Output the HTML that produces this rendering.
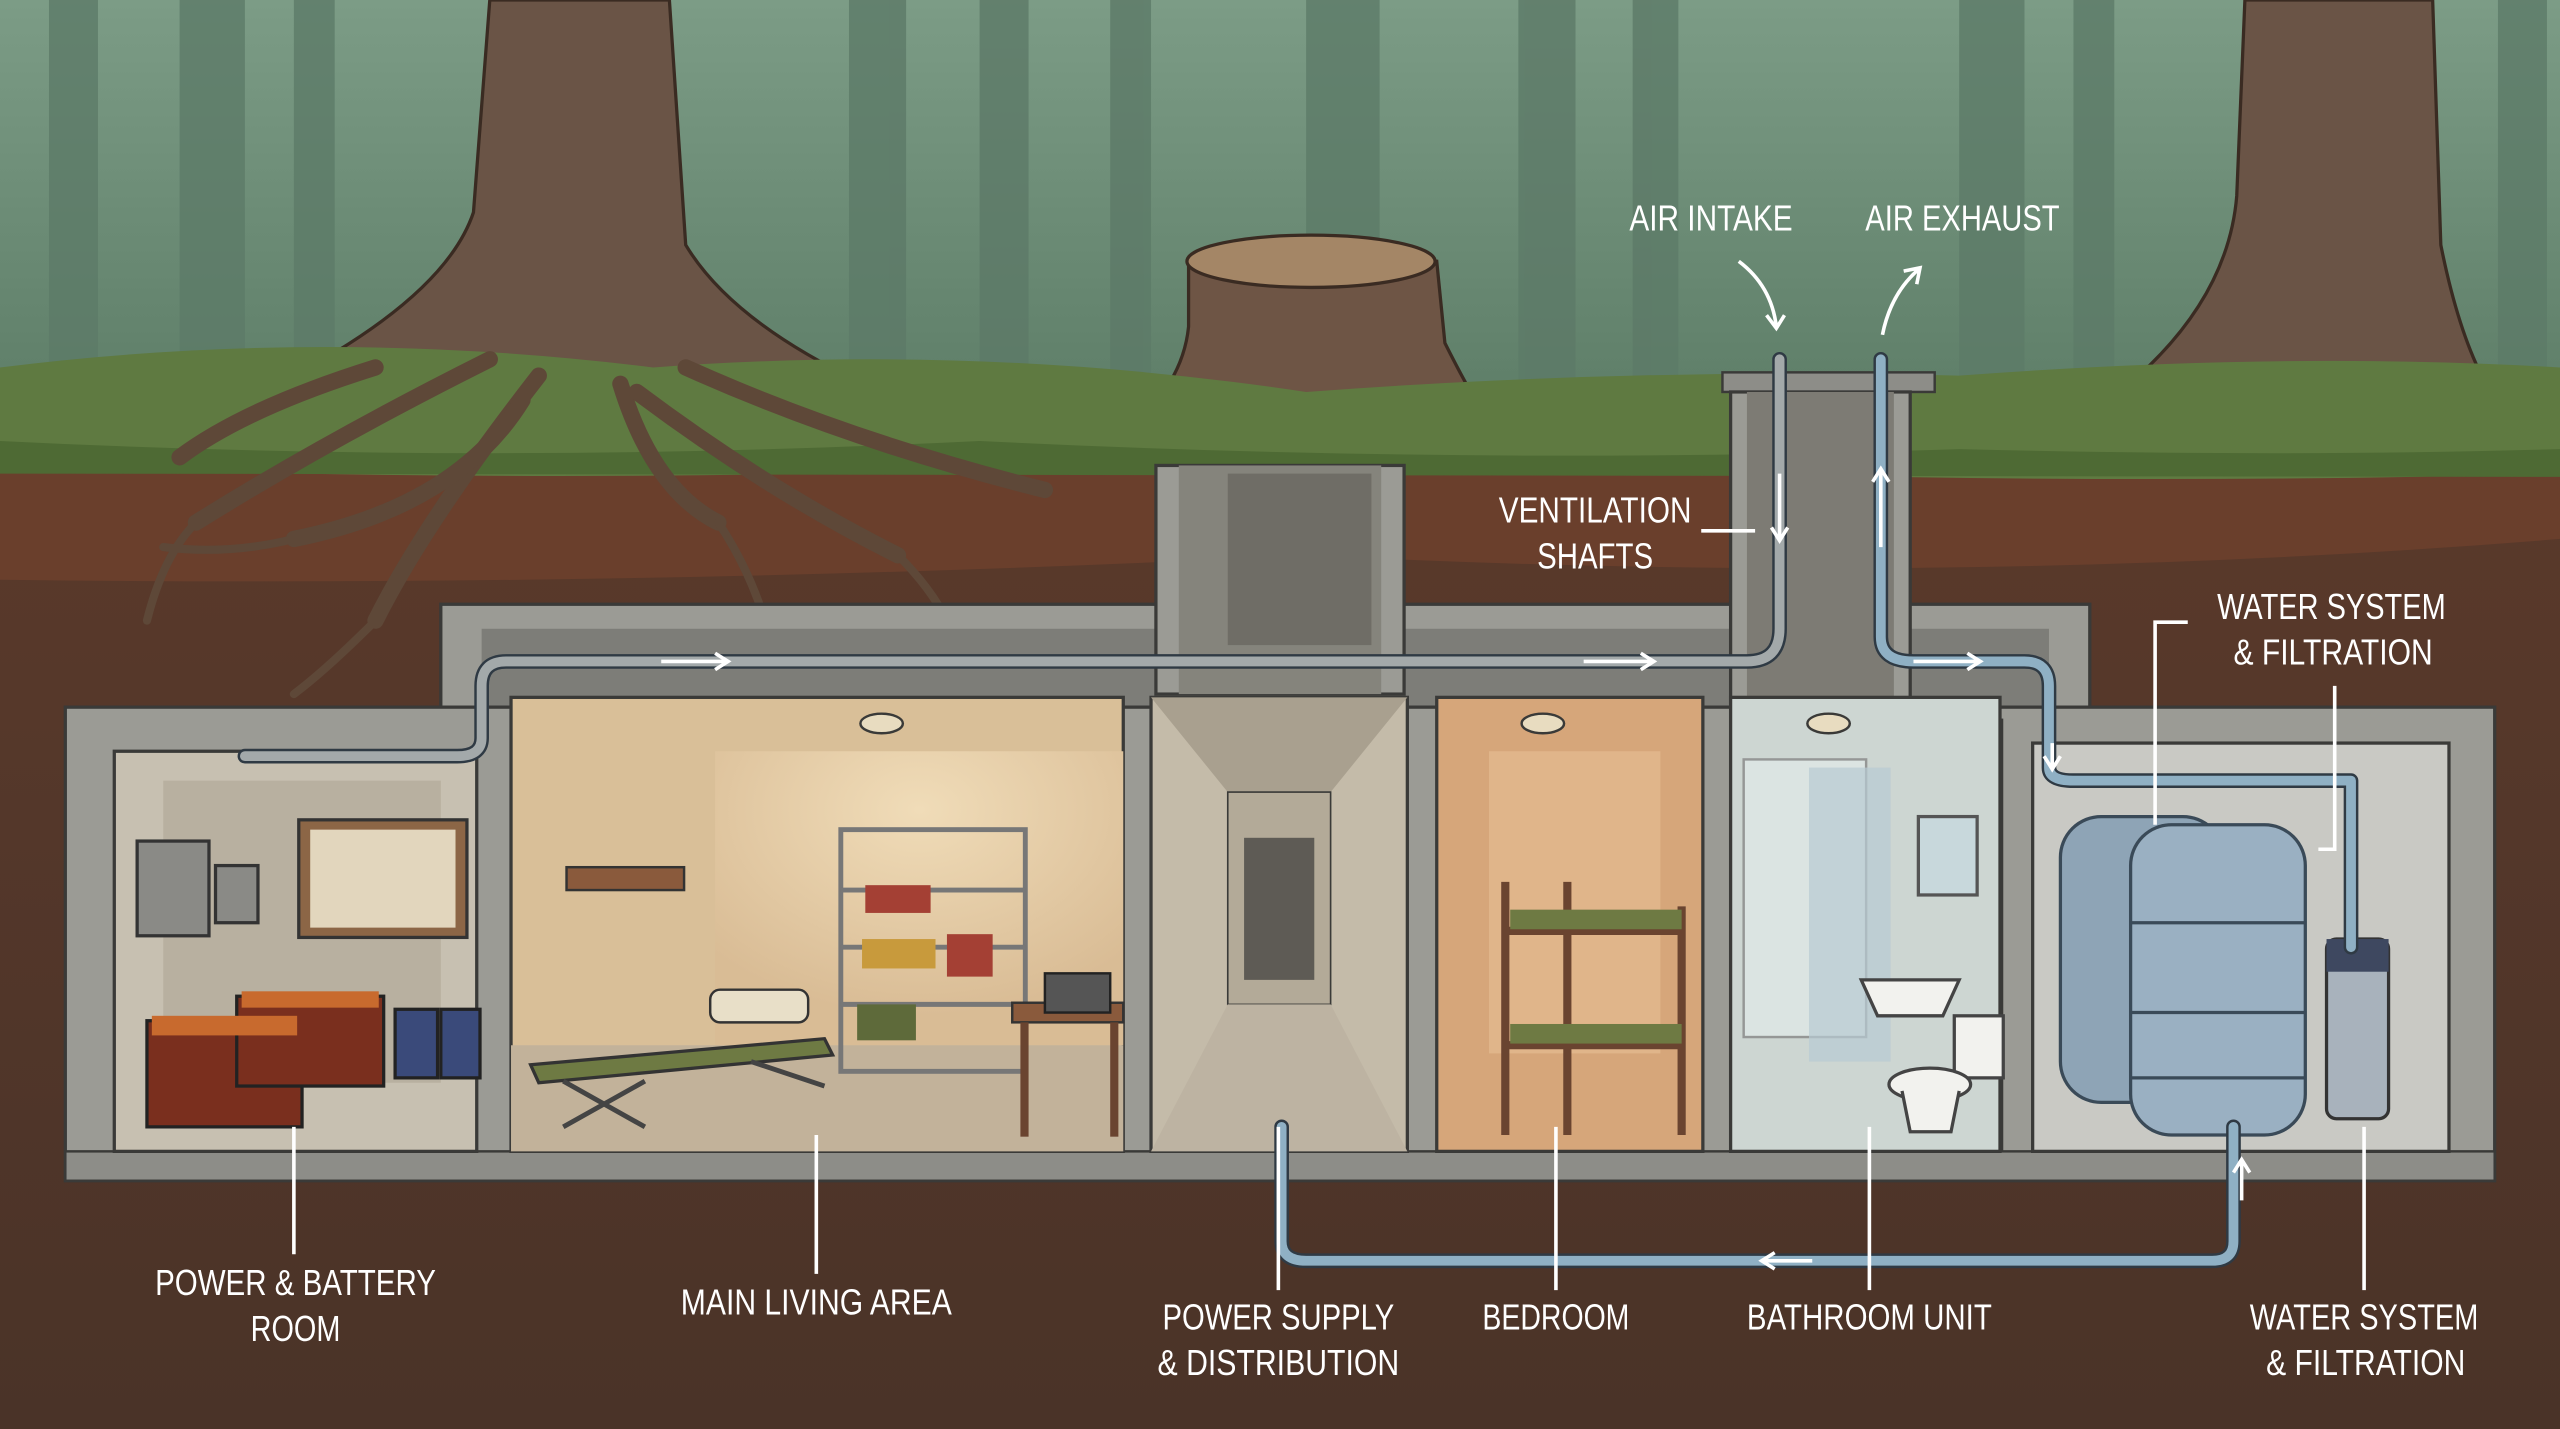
<!DOCTYPE html>
<html><head><meta charset="utf-8"><style>
html,body{margin:0;padding:0;width:2560px;height:1429px;overflow:hidden;background:#4a3328}
svg{display:block}
text{font-family:"Liberation Sans",sans-serif;fill:#fff;font-size:22px;text-anchor:middle}
</style></head><body>
<svg width="2560" height="1429" viewBox="0 0 1568 875" preserveAspectRatio="none" xmlns="http://www.w3.org/2000/svg">
<defs>
<linearGradient id="sky" x1="0" y1="0" x2="0" y2="1"><stop offset="0" stop-color="#7c9c86"/><stop offset="1" stop-color="#5f7f69"/></linearGradient>
<linearGradient id="soil" x1="0" y1="0" x2="0" y2="1"><stop offset="0" stop-color="#5b3a2b"/><stop offset="1" stop-color="#4a3328"/></linearGradient>
<radialGradient id="lamp" cx="0.5" cy="0.2" r="0.7"><stop offset="0" stop-color="#f0dcb8"/><stop offset="1" stop-color="#d9bc95"/></radialGradient>
</defs>
<rect x="0" y="0" width="1568" height="240" fill="url(#sky)"/>
<g fill="#5d7a68" opacity="0.8">
<rect x="30" y="0" width="30" height="240"/><rect x="110" y="0" width="40" height="240"/><rect x="180" y="0" width="25" height="240"/>
<rect x="520" y="0" width="35" height="240"/><rect x="600" y="0" width="30" height="240"/><rect x="680" y="0" width="25" height="240"/>
<rect x="930" y="0" width="35" height="240"/><rect x="1000" y="0" width="28" height="240"/><rect x="1200" y="0" width="40" height="240"/>
<rect x="1270" y="0" width="25" height="240"/><rect x="1530" y="0" width="30" height="240"/><rect x="800" y="0" width="45" height="150"/>
</g>
<rect x="0" y="240" width="1568" height="635" fill="url(#soil)"/>
<path d="M0 280 L1568 280 L1568 330 Q1200 360 800 340 Q400 360 0 355Z" fill="#6a3f2c"/>
<!-- left tree -->
<path d="M300 0 L410 0 L420 150 Q450 200 540 240 L140 250 Q270 190 290 130Z" fill="#6a5446" stroke="#3a2b22" stroke-width="2"/>
<!-- right tree -->
<path d="M1375 0 L1490 0 L1495 150 Q1505 200 1520 230 L1310 230 Q1365 180 1370 120Z" fill="#6a5446" stroke="#3a2b22" stroke-width="2"/>
<!-- stump -->
<path d="M728 160 L880 160 L885 210 Q900 240 910 255 L700 255 Q725 230 728 200Z" fill="#6e5545" stroke="#3a2b22" stroke-width="2"/>
<ellipse cx="803" cy="160" rx="76" ry="16" fill="#a48666" stroke="#3a2b22" stroke-width="2"/>
<!-- moss -->
<path d="M0 225 Q200 200 400 225 Q600 210 800 240 Q1000 225 1200 230 Q1400 215 1568 225 L1568 290 Q1200 300 800 280 Q400 300 0 285Z" fill="#5f7a41"/>
<path d="M0 270 Q300 285 600 270 Q900 285 1200 275 Q1400 280 1568 275 L1568 292 L0 290Z" fill="#4e6a34"/>
<!-- roots -->
<g fill="none" stroke="#5e4838" stroke-width="10" stroke-linecap="round">
<path d="M300 220 Q200 270 120 320"/><path d="M330 230 Q260 320 230 380"/><path d="M380 235 Q400 300 440 320"/><path d="M420 225 Q520 270 640 300"/><path d="M390 240 Q470 300 550 340"/><path d="M320 245 Q280 310 180 330"/><path d="M230 225 Q150 250 110 280"/>
</g>
<g fill="none" stroke="#5e4838" stroke-width="5" stroke-linecap="round">
<path d="M230 380 Q200 410 180 425"/><path d="M120 320 Q100 340 90 380"/><path d="M440 320 Q460 350 470 385"/><path d="M550 340 Q570 360 580 380"/><path d="M180 330 Q140 340 100 335"/>
</g>
<rect x="1055" y="228" width="130" height="12" fill="#8d8d88" stroke="#3a3a38" stroke-width="1.5"/>
<rect x="270" y="370" width="1010" height="70" fill="#9b9b95" stroke="#3a3a38" stroke-width="2"/>
<rect x="295" y="385" width="960" height="50" fill="#7d7d78"/>
<rect x="708" y="285" width="152" height="140" fill="#9b9b95" stroke="#3a3a38" stroke-width="2"/>
<rect x="722" y="285" width="124" height="140" fill="#85847c"/>
<rect x="752" y="290" width="88" height="105" fill="#6f6d66"/>
<rect x="1060" y="240" width="110" height="190" fill="#9b9b95" stroke="#3a3a38" stroke-width="2"/>
<rect x="1070" y="240" width="90" height="190" fill="#7d7b74"/>
<rect x="40" y="433" width="1488" height="290" fill="#9b9b95" stroke="#3a3a38" stroke-width="2"/>
<rect x="40" y="705" width="1488" height="18" fill="#8d8d88" stroke="#3a3a38" stroke-width="1.5"/>
<rect x="70" y="460" width="222" height="245" fill="#c7c0b1" stroke="#3a3a38" stroke-width="2"/>
<rect x="100" y="478" width="170" height="185" fill="#b8b0a0"/>
<rect x="313" y="427" width="375" height="278" fill="#d9bf98" stroke="#3a3a38" stroke-width="2"/>
<rect x="438" y="460" width="250" height="180" fill="url(#lamp)"/>
<path d="M313 640 L688 640 L688 705 L313 705Z" fill="#c2b29a"/>
<rect x="705" y="427" width="157" height="278" fill="#c4bba9" stroke="#3a3a38" stroke-width="2"/>
<path d="M705 427 L862 427 L815 485 L752 485Z" fill="#a9a08f"/>
<rect x="752" y="485" width="63" height="130" fill="#b3aa98" stroke="#3a3a38" stroke-width="1"/>
<rect x="762" y="513" width="43" height="87" fill="#5e5b55"/>
<path d="M752 615 L815 615 L862 705 L705 705Z" fill="#bdb3a2"/>
<rect x="880" y="427" width="163" height="278" fill="#d6a67a" stroke="#3a3a38" stroke-width="2"/>
<rect x="912" y="460" width="105" height="185" fill="#e0b58a"/>
<rect x="1060" y="427" width="165" height="278" fill="#cdd6d2" stroke="#3a3a38" stroke-width="2"/>
<rect x="1225" y="440" width="2" height="265" fill="#3a3a38"/>
<rect x="1245" y="455" width="255" height="250" fill="#c9c9c4" stroke="#3a3a38" stroke-width="2"/>
<g fill="#e8dcc0" stroke="#3a3a38" stroke-width="1.5"><ellipse cx="540" cy="443" rx="13" ry="6"/><ellipse cx="945" cy="443" rx="13" ry="6"/><ellipse cx="1120" cy="443" rx="13" ry="6"/></g>
<rect x="84" y="515" width="44" height="58" fill="#8a8a86" stroke="#333" stroke-width="2"/>
<rect x="132" y="530" width="26" height="35" fill="#8a8a86" stroke="#333" stroke-width="2"/>
<rect x="183" y="502" width="103" height="72" fill="#8c6646" stroke="#333" stroke-width="2"/>
<rect x="190" y="508" width="89" height="60" fill="#e2d6bd"/>
<g fill="#7a2f1e" stroke="#222" stroke-width="2"><rect x="90" y="625" width="95" height="65"/><rect x="145" y="610" width="90" height="55"/></g>
<g fill="#c86a2e"><rect x="93" y="622" width="89" height="12"/><rect x="148" y="607" width="84" height="10"/></g>
<rect x="242" y="618" width="26" height="42" fill="#3a4a7a" stroke="#222" stroke-width="2"/><rect x="270" y="618" width="24" height="42" fill="#3a4a7a" stroke="#222" stroke-width="2"/>
<rect x="347" y="531" width="72" height="14" fill="#8a5a3c" stroke="#333" stroke-width="1.5"/>
<path d="M325 652 L505 636 L510 646 L330 663Z" fill="#6e7a43" stroke="#333" stroke-width="2"/>
<path d="M345 662 L395 690 M395 662 L345 690 M460 650 L505 665" stroke="#444" stroke-width="3"/>
<rect x="435" y="606" width="60" height="20" rx="6" fill="#e8dfc8" stroke="#333" stroke-width="1.5"/>
<g stroke="#777" stroke-width="3" fill="none"><rect x="515" y="508" width="113" height="148"/><path d="M515 545 H628 M515 580 H628 M515 615 H628"/></g>
<g fill="#a44034"><rect x="530" y="542" width="40" height="17"/><rect x="580" y="572" width="28" height="26"/></g>
<g fill="#c89a3c"><rect x="528" y="575" width="45" height="18"/></g>
<rect x="525" y="615" width="36" height="22" fill="#5e6a3a"/>
<rect x="620" y="614" width="68" height="12" fill="#8a5a3c" stroke="#333" stroke-width="1.5"/>
<rect x="625" y="626" width="5" height="70" fill="#6a4430"/><rect x="680" y="626" width="5" height="70" fill="#6a4430"/>
<rect x="640" y="596" width="40" height="24" fill="#555" stroke="#222" stroke-width="1.5"/>
<g stroke="#6a4430" stroke-width="5" fill="none"><path d="M922 540 V695 M960 540 V695 M1030 555 V695 M922 570 H1030 M922 640 H1030"/></g>
<rect x="925" y="557" width="105" height="12" fill="#6e7a43"/><rect x="925" y="627" width="105" height="12" fill="#6e7a43"/>
<rect x="1068" y="465" width="75" height="170" fill="#dfe8e6" stroke="#888" stroke-width="1.5" opacity="0.8"/>
<rect x="1108" y="470" width="50" height="180" fill="#b8cbd3" opacity="0.7"/>
<rect x="1175" y="500" width="36" height="48" fill="#c8d8dc" stroke="#555" stroke-width="2"/>
<path d="M1140 600 H1200 L1190 622 H1150Z" fill="#f2f2ee" stroke="#444" stroke-width="2"/>
<rect x="1197" y="622" width="30" height="38" fill="#f2f2ee" stroke="#444" stroke-width="2"/>
<ellipse cx="1182" cy="664" rx="25" ry="10" fill="#f2f2ee" stroke="#444" stroke-width="2"/>
<path d="M1165 668 L1170 693 H1195 L1200 668" fill="#f2f2ee" stroke="#444" stroke-width="2"/>
<rect x="1262" y="500" width="100" height="175" rx="25" fill="#8ea4b6" stroke="#3a4a58" stroke-width="2"/>
<rect x="1305" y="505" width="107" height="190" rx="25" fill="#9ab0c2" stroke="#3a4a58" stroke-width="2"/>
<g stroke="#3a4a58" stroke-width="2"><path d="M1305 565 H1412 M1305 620 H1412 M1305 660 H1412"/></g>
<rect x="1425" y="575" width="38" height="110" rx="6" fill="#a8b2bc" stroke="#333" stroke-width="2"/>
<rect x="1425" y="575" width="38" height="20" fill="#3e4860"/>
<g fill="none" stroke="#2f3a44" stroke-width="9" stroke-linecap="round" stroke-linejoin="round">
<path d="M1090 220 V385 Q1090 405 1070 405 H310 Q295 405 295 420 V452 Q295 463 280 463 H150"/>
<path d="M1152 220 V390 Q1152 405 1172 405 H1240 Q1255 405 1255 420 V470 Q1255 478 1270 478 H1440 V580"/>
<path d="M785 690 V760 Q785 772 800 772 H1355 Q1368 772 1368 760 V690"/>
</g>
<g fill="none" stroke-width="6" stroke-linecap="round" stroke-linejoin="round">
<path d="M1090 220 V385 Q1090 405 1070 405 H310 Q295 405 295 420 V452 Q295 463 280 463 H150" stroke="#a3a9aa"/>
<path d="M1152 220 V390 Q1152 405 1172 405 H1240 Q1255 405 1255 420 V470 Q1255 478 1270 478 H1440 V580" stroke="#8fb0c4"/>
<path d="M785 690 V760 Q785 772 800 772 H1355 Q1368 772 1368 760 V690" stroke="#8fb0c4"/>
</g>
<g stroke="#fff" stroke-width="2.2" fill="none">
<path d="M405 405 H445 M438 400 L446 405 438 410"/><path d="M970 405 H1012 M1005 400 L1013 405 1005 410"/><path d="M1172 405 H1212 M1205 400 L1213 405 1205 410"/>
<path d="M1090 290 V330 M1085 323 L1090 331 1095 323"/><path d="M1152 335 V288 M1147 295 L1152 287 1157 295"/>
<path d="M1110 772 H1080 M1087 767 L1079 772 1087 777"/><path d="M1373 735 V712 M1368 718 L1373 710 1378 718"/>
<path d="M1257 455 V470 M1252 463 L1257 471 1262 463"/>
<path d="M1065 160 Q1085 175 1088 200 M1082 193 L1088 201 1093 193"/>
<path d="M1153 205 Q1158 180 1175 165 M1166 166 L1176 164 1174 174"/>
<path d="M1042 325 H1075"/><path d="M180 690 V768"/><path d="M500 695 V780"/><path d="M783 690 V790"/><path d="M953 690 V790"/><path d="M1145 690 V790"/><path d="M1448 690 V790"/>
<path d="M1340 381 H1320 V505"/><path d="M1430 420 V520 H1420"/>
</g>
<g lengthAdjust="spacingAndGlyphs">
<text x="1048" y="141" textLength="100" lengthAdjust="spacingAndGlyphs">AIR INTAKE</text>
<text x="1202" y="141" textLength="119" lengthAdjust="spacingAndGlyphs">AIR EXHAUST</text>
<text x="977" y="320" textLength="118" lengthAdjust="spacingAndGlyphs">VENTILATION</text>
<text x="977" y="348" textLength="71" lengthAdjust="spacingAndGlyphs">SHAFTS</text>
<text x="1428" y="379" textLength="140" lengthAdjust="spacingAndGlyphs">WATER SYSTEM</text>
<text x="1429" y="407" textLength="122" lengthAdjust="spacingAndGlyphs">&amp; FILTRATION</text>
<text x="181" y="793" textLength="172" lengthAdjust="spacingAndGlyphs">POWER &amp; BATTERY</text>
<text x="181" y="821" textLength="55" lengthAdjust="spacingAndGlyphs">ROOM</text>
<text x="500" y="805" textLength="166" lengthAdjust="spacingAndGlyphs">MAIN LIVING AREA</text>
<text x="783" y="814" textLength="142" lengthAdjust="spacingAndGlyphs">POWER SUPPLY</text>
<text x="783" y="842" textLength="148" lengthAdjust="spacingAndGlyphs">&amp; DISTRIBUTION</text>
<text x="953" y="814" textLength="90" lengthAdjust="spacingAndGlyphs">BEDROOM</text>
<text x="1145" y="814" textLength="150" lengthAdjust="spacingAndGlyphs">BATHROOM UNIT</text>
<text x="1448" y="814" textLength="140" lengthAdjust="spacingAndGlyphs">WATER SYSTEM</text>
<text x="1449" y="842" textLength="122" lengthAdjust="spacingAndGlyphs">&amp; FILTRATION</text>
</g>
</svg>
</body></html>
